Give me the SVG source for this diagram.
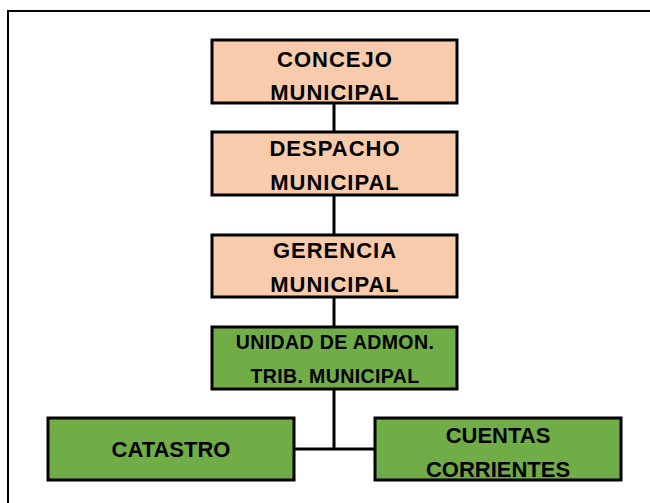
<svg xmlns="http://www.w3.org/2000/svg" width="650" height="503" viewBox="0 0 650 503">
<style>
.box{stroke:#000;stroke-width:3}
.peach{fill:#F8CBAD}
.green{fill:#70AD47}
.t{font-family:"Liberation Sans",Arial,sans-serif;font-weight:bold;fill:#000;text-anchor:middle}
.big{font-size:22px;letter-spacing:1px}
.mid{font-size:19.5px;letter-spacing:0.4px}
.bot{font-size:22px}
.conn{stroke:#000;stroke-width:3;fill:none}
</style>
<rect width="650" height="503" fill="#fff"/>
<path d="M8,503 V11 H650" fill="none" stroke="#000" stroke-width="2"/>
<g id="connectors">
<line class="conn" x1="334" y1="103" x2="334" y2="132"/>
<line class="conn" x1="334" y1="195" x2="334" y2="235"/>
<line class="conn" x1="334" y1="297" x2="334" y2="327"/>
<line class="conn" x1="334" y1="389" x2="334" y2="449"/>
<line class="conn" x1="294" y1="449" x2="375" y2="449" stroke-width="2.5"/>
</g>
<g id="concejo">
<rect class="box peach" x="212" y="40" width="245" height="63"/>
<text class="t big" x="335" y="67">CONCEJO</text>
<text class="t big" x="335" y="100">MUNICIPAL</text>
</g>
<g id="despacho">
<rect class="box peach" x="212" y="132" width="245" height="63"/>
<text class="t big" x="335" y="156">DESPACHO</text>
<text class="t big" x="335" y="190">MUNICIPAL</text>
</g>
<g id="gerencia">
<rect class="box peach" x="212" y="235" width="245" height="62"/>
<text class="t big" x="335" y="258">GERENCIA</text>
<text class="t big" x="335" y="292">MUNICIPAL</text>
</g>
<g id="unidad">
<rect class="box green" x="212" y="327" width="245" height="62"/>
<text class="t mid" x="335" y="349">UNIDAD DE ADMON.</text>
<text class="t mid" x="335" y="383">TRIB. MUNICIPAL</text>
</g>
<g id="catastro">
<rect class="box green" x="48" y="418" width="246" height="62"/>
<text class="t bot" x="171" y="457">CATASTRO</text>
</g>
<g id="cuentas">
<rect class="box green" x="375" y="418" width="246" height="62"/>
<text class="t bot" x="498" y="443">CUENTAS</text>
<text class="t bot" x="498" y="477">CORRIENTES</text>
</g>
</svg>
